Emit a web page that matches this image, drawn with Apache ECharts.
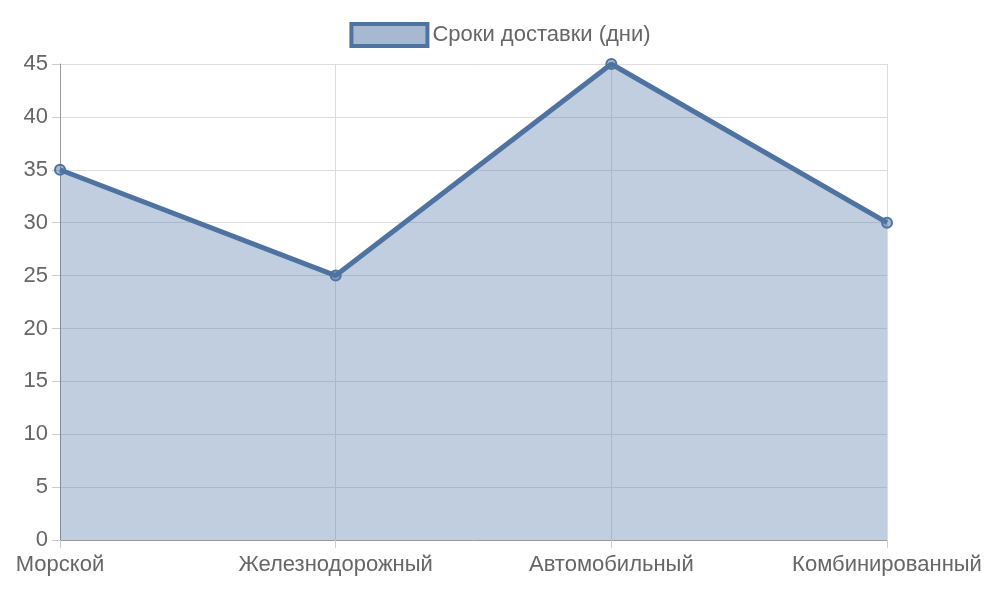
<!DOCTYPE html>
<html><head><meta charset="utf-8">
<script src="https://cdn.jsdelivr.net/npm/echarts@6/dist/echarts.min.js"></script>
<style>html,body{margin:0;padding:0}#c{width:1000px;height:600px}</style>
</head><body><div id="c"></div>
<script>
const categories = ['Морской','Железнодорожный','Автомобильный','Комбинированный'];
const values = [35, 25, 45, 30];
const seriesName = 'Сроки доставки (дни)';
const chart = echarts.init(document.getElementById('c'));
const font = 'Liberation Sans, Arial, sans-serif';
chart.setOption({
  animation:false,
  textStyle:{fontFamily:font},
  legend:{top:17,left:'center',icon:'rect',itemWidth:76,itemHeight:22,itemGap:10,
    textStyle:{color:'#666',fontSize:22,fontFamily:font},
    data:[{name:seriesName,itemStyle:{color:'rgba(78,116,163,0.5)',borderColor:'#4e73a0',borderWidth:4}}]},
  grid:{left:60,right:113,top:64,bottom:60},
  xAxis:{type:'category',data:categories,boundaryGap:false,
    axisLine:{lineStyle:{color:'#999'}},axisTick:{show:true,length:8,lineStyle:{color:'#ccc'}},
    splitLine:{show:true,lineStyle:{color:'#ddd'}},
    axisLabel:{color:'#666',fontSize:22,margin:14,fontFamily:font}},
  yAxis:{type:'value',min:0,max:45,interval:5,
    axisLine:{show:true,lineStyle:{color:'#999'}},axisTick:{show:true,length:8,lineStyle:{color:'#ccc'}},
    splitLine:{lineStyle:{color:'#ddd'}},
    axisLabel:{color:'#666',fontSize:22,margin:12,fontFamily:font}},
  series:[{name:seriesName,type:'line',data:values,
    symbol:'circle',symbolSize:10,
    lineStyle:{color:'#4e73a0',width:5},
    itemStyle:{color:'rgba(78,116,163,0.5)',borderColor:'#4e73a0',borderWidth:2},
    areaStyle:{color:'rgba(78,116,163,0.5)'}}]
});
</script></body></html>
